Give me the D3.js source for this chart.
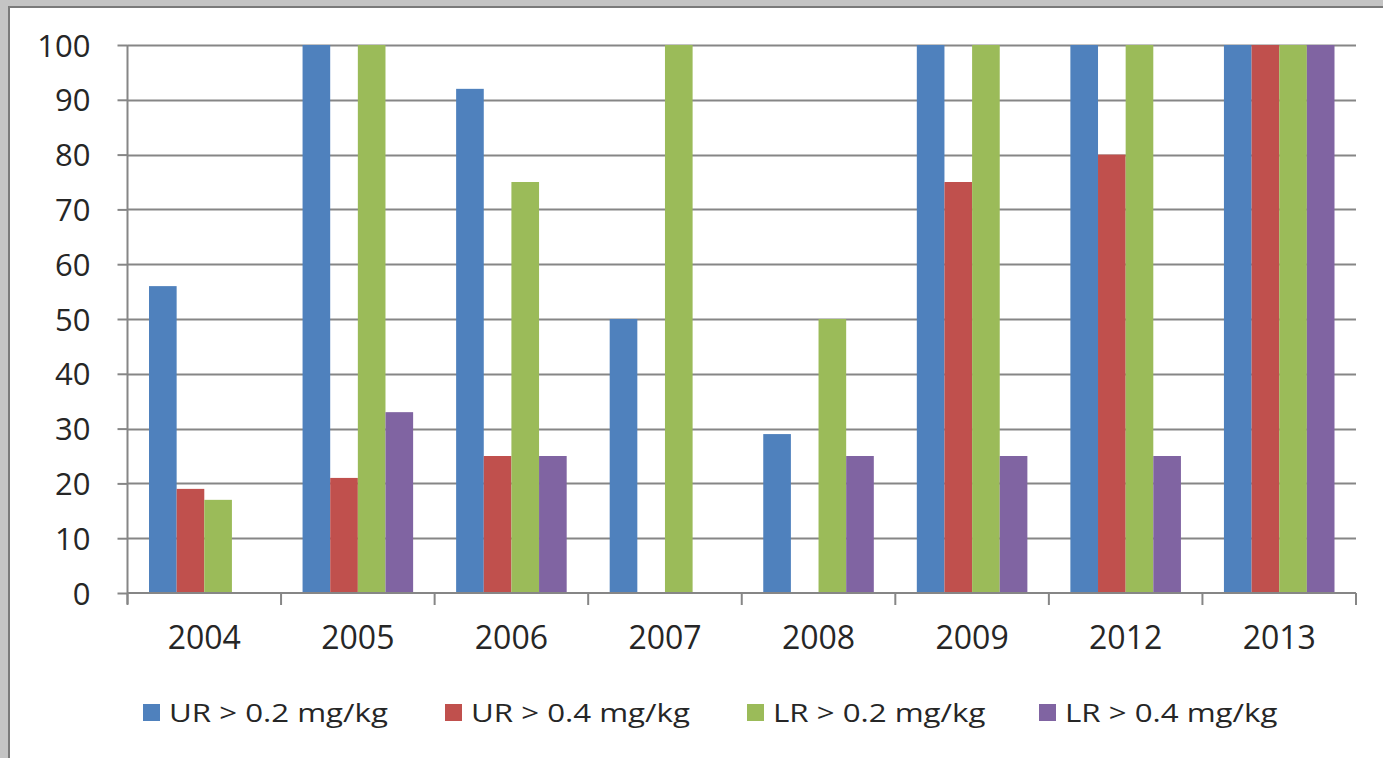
<!DOCTYPE html>
<html>
<head>
<meta charset="utf-8">
<script src="https://cdn.jsdelivr.net/npm/d3@7/dist/d3.min.js"></script>
<style>
  html, body { margin: 0; padding: 0; background: #fff; }
  svg { display: block; }
  text { font-family: "Open Sans", "Liberation Sans", sans-serif; fill: #262626; }
</style>
</head>
<body>
<svg id="chart" width="1383" height="758"></svg>
<script>
const years = ["2004", "2005", "2006", "2007", "2008", "2009", "2012", "2013"];
const seriesNames = ["UR > 0.2 mg/kg", "UR > 0.4 mg/kg", "LR > 0.2 mg/kg", "LR > 0.4 mg/kg"];
const seriesColors = ["#4F81BD", "#C0504D", "#9BBB59", "#8064A2"];
const ur02 = [56, 100, 92, 50, 29, 100, 100, 100];
const ur04 = [19, 21, 25, 0, 0, 75, 80, 100];
const lr02 = [17, 100, 75, 100, 50, 100, 100, 100];
const lr04 = [0, 33, 25, 0, 25, 25, 25, 100];
const yTicks = [0, 10, 20, 30, 40, 50, 60, 70, 80, 90, 100];

const seriesValues = [ur02, ur04, lr02, lr04];

(function () {
const svg = d3.select("#chart");
const W = 1383, H = 758;

// frame
svg.append("rect").attr("x", 0).attr("y", 0).attr("width", W).attr("height", H).attr("fill", "#fff");
svg.append("rect").attr("x", 0).attr("y", 0).attr("width", W).attr("height", 6).attr("fill", "#c4c4c4");
svg.append("rect").attr("x", 0).attr("y", 0).attr("width", 8).attr("height", H).attr("fill", "#c4c4c4");
svg.append("line").attr("x1", 8).attr("x2", W).attr("y1", 7).attr("y2", 7).attr("stroke", "#7a7a7a").attr("stroke-width", 2);
svg.append("line").attr("x1", 9).attr("x2", 9).attr("y1", 7).attr("y2", H).attr("stroke", "#7a7a7a").attr("stroke-width", 2);

const pLeft = 127.5, pRight = 1356, pTop = 45, pBottom = 593;

const x0 = d3.scaleBand().domain(years).range([pLeft, pRight]).paddingInner(0).paddingOuter(0);
const groupPad = 21.5;
const x1 = d3.scaleBand().domain(d3.range(4)).range([groupPad, x0.bandwidth() - groupPad]).padding(0);
const y = d3.scaleLinear().domain([0, 100]).range([pBottom, pTop]);

const gridColor = "#868686";

// gridlines
svg.append("g").selectAll("line").data(yTicks.filter(d => d > 0)).join("line")
  .attr("x1", pLeft).attr("x2", pRight)
  .attr("y1", d => Math.round(y(d)) + 0.5).attr("y2", d => Math.round(y(d)) + 0.5)
  .attr("stroke", gridColor).attr("stroke-width", 2);

// bars
const groups = svg.append("g").selectAll("g").data(years).join("g")
  .attr("transform", d => `translate(${x0(d)},0)`);
groups.selectAll("rect").data((d, i) => seriesValues.map((s, k) => ({ k, v: s[i] }))).join("rect")
  .attr("x", d => x1(d.k))
  .attr("width", x1.bandwidth())
  .attr("y", d => y(d.v))
  .attr("height", d => pBottom - y(d.v))
  .attr("fill", d => seriesColors[d.k]);

// y axis
const yAxis = d3.axisLeft(y).tickValues(yTicks).tickSize(10).tickPadding(27);
const gy = svg.append("g").attr("transform", `translate(${pLeft},0)`).call(yAxis);
gy.select(".domain").attr("stroke", gridColor).attr("stroke-width", 2).attr("d", `M0,${pTop}V${pBottom + 11}`);
gy.selectAll(".tick line").attr("stroke", gridColor).attr("stroke-width", 2);
gy.selectAll(".tick text").attr("font-size", 31).attr("fill", "#262626")
  .attr("font-family", "'Open Sans', sans-serif").attr("dy", "0.36em");

// x axis
const xAxis = d3.axisBottom(x0).tickSize(0).tickPadding(33);
const gx = svg.append("g").attr("transform", `translate(0,${pBottom})`).call(xAxis);
gx.select(".domain").attr("stroke", gridColor).attr("stroke-width", 2).attr("d", `M${pLeft},0H${pRight}`);
gx.selectAll(".tick text").attr("font-size", 32).attr("fill", "#262626")
  .attr("font-family", "'Open Sans', sans-serif");
// category separators
gx.append("g").selectAll("line").data(years.concat(["end"])).join("line")
  .attr("x1", (d, i) => i < years.length ? x0(d) : pRight)
  .attr("x2", (d, i) => i < years.length ? x0(d) : pRight)
  .attr("y1", 0).attr("y2", 12)
  .attr("stroke", gridColor).attr("stroke-width", 2);

// legend
const legendX = [143, 445, 747, 1039];
const lg = svg.append("g").selectAll("g").data(seriesNames).join("g")
  .attr("transform", (d, i) => `translate(${legendX[i]},704)`);
lg.append("rect").attr("width", 17).attr("height", 17).attr("fill", (d, i) => seriesColors[i]);
lg.append("text").attr("transform", "translate(26,18) scale(1.25,1)").attr("font-size", 25)
  .text(d => d);
})();
</script>
</body>
</html>
